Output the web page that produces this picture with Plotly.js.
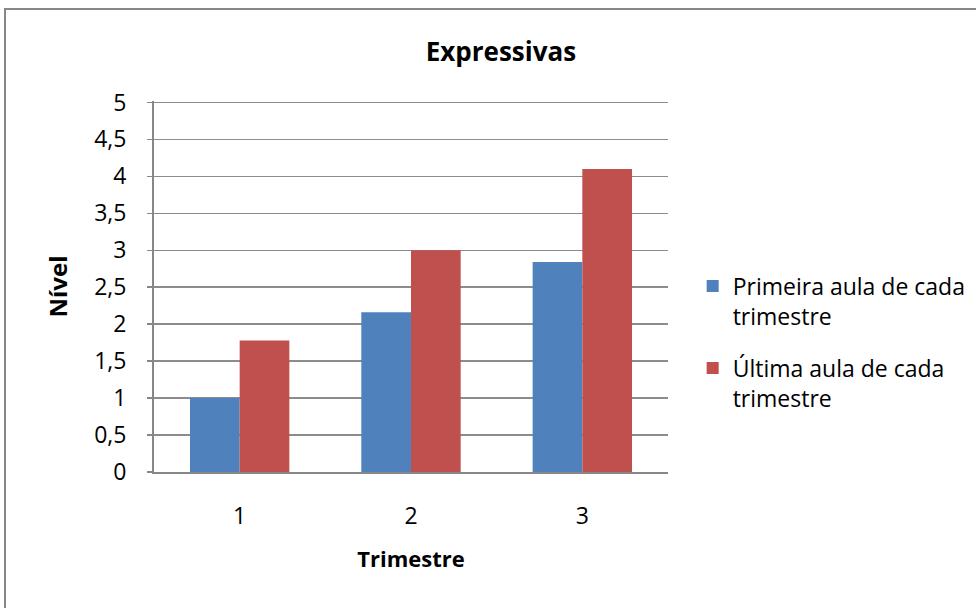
<!DOCTYPE html>
<html><head><meta charset="utf-8">
<script src="https://cdn.plot.ly/plotly-3.0.1.min.js"></script>
<style>
body{margin:0;padding:0;background:#fff;overflow:hidden;}
#wrap{position:relative;width:976px;height:608px;overflow:hidden;}
#chart{position:absolute;left:0;top:0;width:976px;height:608px;}
#border{position:absolute;left:4px;top:8px;width:1000px;height:640px;border:2px solid #878787;pointer-events:none;box-sizing:border-box;}
</style></head>
<body><div id="wrap"><div id="chart"></div><div id="border"></div></div>
<script>
const categories = ['1','2','3'];
const seriesNames = ['Primeira aula de cada<br>trimestre', 'Última aula de cada<br>trimestre'];
const primeira = [1.0, 2.16, 2.84];
const ultima = [1.78, 3.0, 4.1];
const yTicks = [0,0.5,1,1.5,2,2.5,3,3.5,4,4.5,5];

const font = 'Open Sans';
const traces = [
  {type:'bar', x:categories, y:primeira, name:seriesNames[0], legendgroup:'a', marker:{color:'#4F81BD'}},
  {type:'bar', x:categories, y:ultima, name:seriesNames[1], legendgroup:'b', marker:{color:'#C0504D'}}
];
const layout = {
  width:976, height:608,
  margin:{l:154, r:308, t:101, b:136, autoexpand:false},
  paper_bgcolor:'rgba(0,0,0,0)', plot_bgcolor:'rgba(0,0,0,0)',
  separators:',.',
  font:{family:font, color:'#000', size:23},
  barmode:'group', bargap:0.42, bargroupgap:0,
  title:{text:'<b>Expressivas</b>', font:{size:26, family:font}, xref:'paper', x:0.675, xanchor:'center', yref:'container', y:1-52/608, yanchor:'middle'},
  xaxis:{type:'category', showline:true, linecolor:'#878787', linewidth:2, showgrid:false, ticks:'', tickfont:{size:23},
    ticklabelstandoff:22,
    title:{text:'<b>Trimestre</b>', font:{size:22}, standoff:22}},
  yaxis:{range:[0,5.02], tickvals:yTicks, showline:true, linecolor:'#878787', linewidth:2, gridcolor:'#8c8c8c', gridwidth:1.5,
    ticks:'outside', ticklen:5, tickcolor:'#878787', tickwidth:1.5, tickfont:{size:23}, zeroline:false,
    ticklabelstandoff:16,
    title:{text:'<b>Nível</b>', font:{size:24}, standoff:20}},
  legend:{x:1.048, y:0.35, xanchor:'left', yanchor:'middle', font:{size:23}, valign:'top', tracegroupgap:19, traceorder:'grouped', itemwidth:30},
  showlegend:true
};
Plotly.newPlot('chart', traces, layout, {displayModeBar:false, staticPlot:true});
</script></body></html>
